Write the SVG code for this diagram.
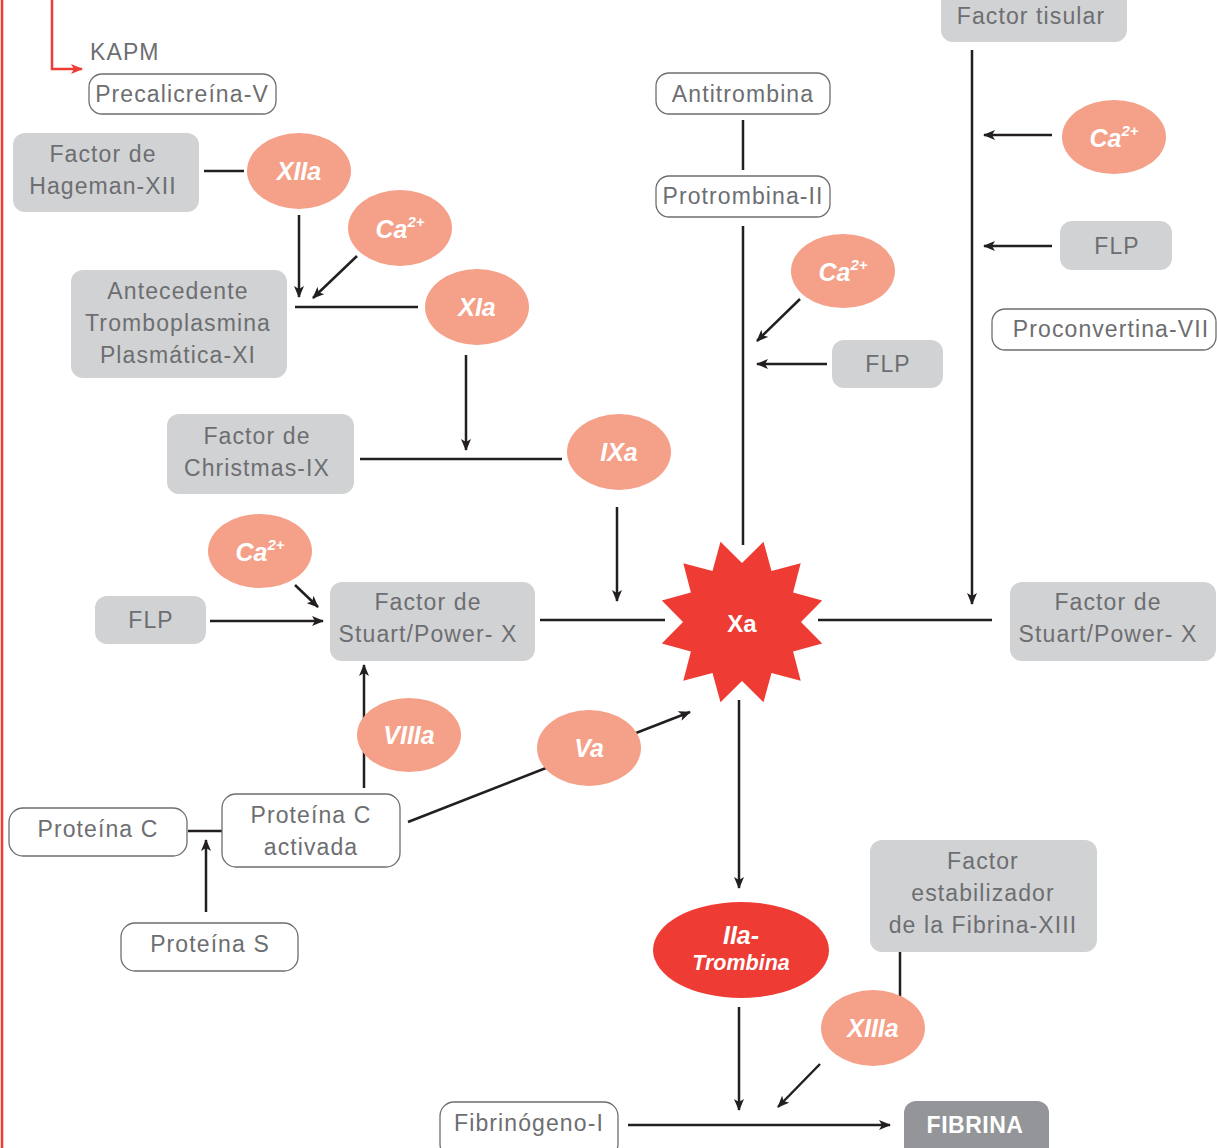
<svg xmlns="http://www.w3.org/2000/svg" width="1217" height="1148" viewBox="0 0 1217 1148">
<style>
.g{fill:#d1d2d4}
.o{fill:#fff;stroke:#6d6e71;stroke-width:1.3}
.t{font-family:"Liberation Sans",Arial,sans-serif;font-size:23px;letter-spacing:1.1px;fill:#6d6e71;text-anchor:middle;dominant-baseline:central}
.e{fill:#f5a088}
.et{font-family:"Liberation Sans",Arial,sans-serif;font-size:25px;font-weight:bold;font-style:italic;fill:#fff;text-anchor:middle;dominant-baseline:central}
.sm{font-size:21.5px}
.sup{font-size:15px}
.c line,.c polyline{stroke:#231f20;stroke-width:2.5;fill:none}
</style>
<defs>
<marker id="a" viewBox="0 0 12 10" refX="11" refY="5" markerWidth="12" markerHeight="10" markerUnits="userSpaceOnUse" orient="auto">
<path d="M0,0 L12,5 L0,10 L3,5 z" fill="#231f20"/>
</marker>
<marker id="ar" viewBox="0 0 12 10" refX="11" refY="5" markerWidth="12" markerHeight="10" markerUnits="userSpaceOnUse" orient="auto">
<path d="M0,0 L12,5 L0,10 L3,5 z" fill="#ee3b33"/>
</marker>
</defs>
<rect width="1217" height="1148" fill="#fff"/>
<line x1="2" y1="0" x2="2" y2="1148" stroke="#ee3b33" stroke-width="2.5"/>

<g class="c" id="connectors">
<polyline points="52,0 52,69 82,69" style="stroke:#ee3b33" marker-end="url(#ar)"/>
<line x1="204" y1="171" x2="244" y2="171"/>
<line x1="299" y1="215" x2="299" y2="297" marker-end="url(#a)"/>
<line x1="357" y1="256" x2="313" y2="298" marker-end="url(#a)"/>
<line x1="295" y1="307" x2="418" y2="307"/>
<line x1="466" y1="355" x2="466" y2="450" marker-end="url(#a)"/>
<line x1="360" y1="459" x2="562" y2="459"/>
<line x1="617" y1="507" x2="617" y2="601" marker-end="url(#a)"/>
<line x1="540" y1="620" x2="665" y2="620"/>
<line x1="818" y1="620" x2="992" y2="620"/>
<line x1="972" y1="50" x2="972" y2="604" marker-end="url(#a)"/>
<line x1="1052" y1="135" x2="984" y2="135" marker-end="url(#a)"/>
<line x1="1052" y1="246" x2="984" y2="246" marker-end="url(#a)"/>
<line x1="743" y1="120" x2="743" y2="170"/>
<line x1="743" y1="226" x2="743" y2="545"/>
<line x1="800" y1="299" x2="757" y2="341" marker-end="url(#a)"/>
<line x1="827" y1="364" x2="757" y2="364" marker-end="url(#a)"/>
<line x1="295" y1="585" x2="318" y2="607" marker-end="url(#a)"/>
<line x1="210" y1="621" x2="323" y2="621" marker-end="url(#a)"/>
<line x1="364" y1="788" x2="364" y2="665" marker-end="url(#a)"/>
<line x1="408" y1="822" x2="546" y2="768"/>
<line x1="636" y1="733" x2="690" y2="712" marker-end="url(#a)"/>
<line x1="188" y1="831" x2="222" y2="831"/>
<line x1="206" y1="912" x2="206" y2="840" marker-end="url(#a)"/>
<line x1="739" y1="700" x2="739" y2="888" marker-end="url(#a)"/>
<line x1="900" y1="952" x2="900" y2="998"/>
<line x1="739" y1="1007" x2="739" y2="1110" marker-end="url(#a)"/>
<line x1="820" y1="1064" x2="778" y2="1107" marker-end="url(#a)"/>
<line x1="628" y1="1125" x2="890" y2="1125" marker-end="url(#a)"/>
</g>

<g id="kapm"><text class="t" x="90" y="52" style="text-anchor:start">KAPM</text></g>
<g id="precalicreina"><rect class="o" x="89" y="74" width="187" height="40" rx="13"/><text class="t" x="182" y="94">Precalicreína-V</text></g>
<g id="hageman"><rect class="g" x="13" y="133" width="186" height="79" rx="12"/><text class="t" x="103" y="154">Factor de</text><text class="t" x="103" y="186">Hageman-XII</text></g>
<g id="xiia"><ellipse class="e" cx="299" cy="171" rx="52" ry="38"/><text class="et" x="299" y="171">XIIa</text></g>
<g id="ca1"><ellipse class="e" cx="400" cy="228" rx="52" ry="38"/><text class="et" x="400" y="229">Ca<tspan class="sup" dy="-8">2+</tspan></text></g>
<g id="antecedente"><rect class="g" x="71" y="270" width="216" height="108" rx="12"/><text class="t" x="178" y="291">Antecedente</text><text class="t" x="178" y="323">Tromboplasmina</text><text class="t" x="178" y="355">Plasmática-XI</text></g>
<g id="xia"><ellipse class="e" cx="477" cy="307" rx="52" ry="38"/><text class="et" x="477" y="307">XIa</text></g>
<g id="christmas"><rect class="g" x="167" y="414" width="187" height="80" rx="12"/><text class="t" x="257" y="436">Factor de</text><text class="t" x="257" y="468">Christmas-IX</text></g>
<g id="ixa"><ellipse class="e" cx="619" cy="452" rx="52" ry="38"/><text class="et" x="619" y="452">IXa</text></g>
<g id="stuart1"><rect class="g" x="330" y="582" width="205" height="79" rx="12"/><text class="t" x="428" y="602">Factor de</text><text class="t" x="428" y="634">Stuart/Power- X</text></g>
<g id="ca3"><ellipse class="e" cx="260" cy="551" rx="52" ry="37"/><text class="et" x="260" y="552">Ca<tspan class="sup" dy="-8">2+</tspan></text></g>
<g id="flp3"><rect class="g" x="95" y="596" width="111" height="48" rx="12"/><text class="t" x="151" y="620">FLP</text></g>
<g id="xa"><polygon fill="#ee3b33" points="742.0,563.0 763.5,541.8 771.5,570.9 800.7,563.3 793.1,592.5 822.2,600.5 801.0,622.0 822.2,643.5 793.1,651.5 800.7,680.7 771.5,673.1 763.5,702.2 742.0,681.0 720.5,702.2 712.5,673.1 683.3,680.7 690.9,651.5 661.8,643.5 683.0,622.0 661.8,600.5 690.9,592.5 683.3,563.3 712.5,570.9 720.5,541.8"/><text x="742" y="623" font-family="Liberation Sans,Arial,sans-serif" font-size="24" font-weight="bold" fill="#fff" text-anchor="middle" dominant-baseline="central">Xa</text></g>
<g id="stuart2"><rect class="g" x="1010" y="582" width="206" height="79" rx="12"/><text class="t" x="1108" y="602">Factor de</text><text class="t" x="1108" y="634">Stuart/Power- X</text></g>
<g id="tisular"><rect class="g" x="941" y="-12" width="186" height="54" rx="12"/><text class="t" x="1031" y="16">Factor tisular</text></g>
<g id="ca4"><ellipse class="e" cx="1114" cy="137" rx="52" ry="37"/><text class="et" x="1114" y="138">Ca<tspan class="sup" dy="-8">2+</tspan></text></g>
<g id="flp1"><rect class="g" x="1060" y="221" width="112" height="49" rx="12"/><text class="t" x="1117" y="246">FLP</text></g>
<g id="proconvertina"><rect class="o" x="992" y="309" width="224" height="41" rx="13"/><text class="t" x="1111" y="329">Proconvertina-VII</text></g>
<g id="antitrombina"><rect class="o" x="656" y="73" width="174" height="41" rx="13"/><text class="t" x="743" y="94">Antitrombina</text></g>
<g id="protrombina"><rect class="o" x="656" y="176" width="174" height="41" rx="13"/><text class="t" x="743" y="196">Protrombina-II</text></g>
<g id="ca2"><ellipse class="e" cx="843" cy="271" rx="52" ry="37"/><text class="et" x="843" y="272">Ca<tspan class="sup" dy="-8">2+</tspan></text></g>
<g id="flp2"><rect class="g" x="832" y="340" width="111" height="48" rx="12"/><text class="t" x="888" y="364">FLP</text></g>
<g id="viiia"><ellipse class="e" cx="409" cy="735" rx="52" ry="37"/><text class="et" x="409" y="735">VIIIa</text></g>
<g id="va"><ellipse class="e" cx="589" cy="748" rx="52" ry="38"/><text class="et" x="589" y="748">Va</text></g>
<g id="proteinac"><rect class="o" x="9" y="808" width="178" height="48" rx="14"/><text class="t" x="98" y="829">Proteína C</text></g>
<g id="proteinacact"><rect class="o" x="222" y="794" width="178" height="73" rx="14"/><text class="t" x="311" y="815">Proteína C</text><text class="t" x="311" y="847">activada</text></g>
<g id="proteinas"><rect class="o" x="121" y="923" width="177" height="48" rx="14"/><text class="t" x="210" y="944">Proteína S</text></g>
<g id="trombina"><ellipse fill="#ee3b33" cx="741" cy="950" rx="88" ry="48"/><text class="et" x="741" y="935">IIa-</text><text class="et sm" x="741" y="963">Trombina</text></g>
<g id="estabilizador"><rect class="g" x="870" y="840" width="227" height="112" rx="12"/><text class="t" x="983" y="861">Factor</text><text class="t" x="983" y="893">estabilizador</text><text class="t" x="983" y="925">de la Fibrina-XIII</text></g>
<g id="xiiia"><ellipse class="e" cx="873" cy="1028" rx="52" ry="38"/><text class="et" x="873" y="1028">XIIIa</text></g>
<g id="fibrinogeno"><rect class="o" x="440" y="1102" width="178" height="56" rx="14"/><text class="t" x="529" y="1123">Fibrinógeno-I</text></g>
<g id="fibrina"><rect fill="#939598" x="904" y="1101" width="145" height="60" rx="12"/><text x="975" y="1125" font-family="Liberation Sans,Arial,sans-serif" font-size="23" font-weight="bold" letter-spacing="0.5" fill="#fff" text-anchor="middle" dominant-baseline="central">FIBRINA</text></g>
</svg>
